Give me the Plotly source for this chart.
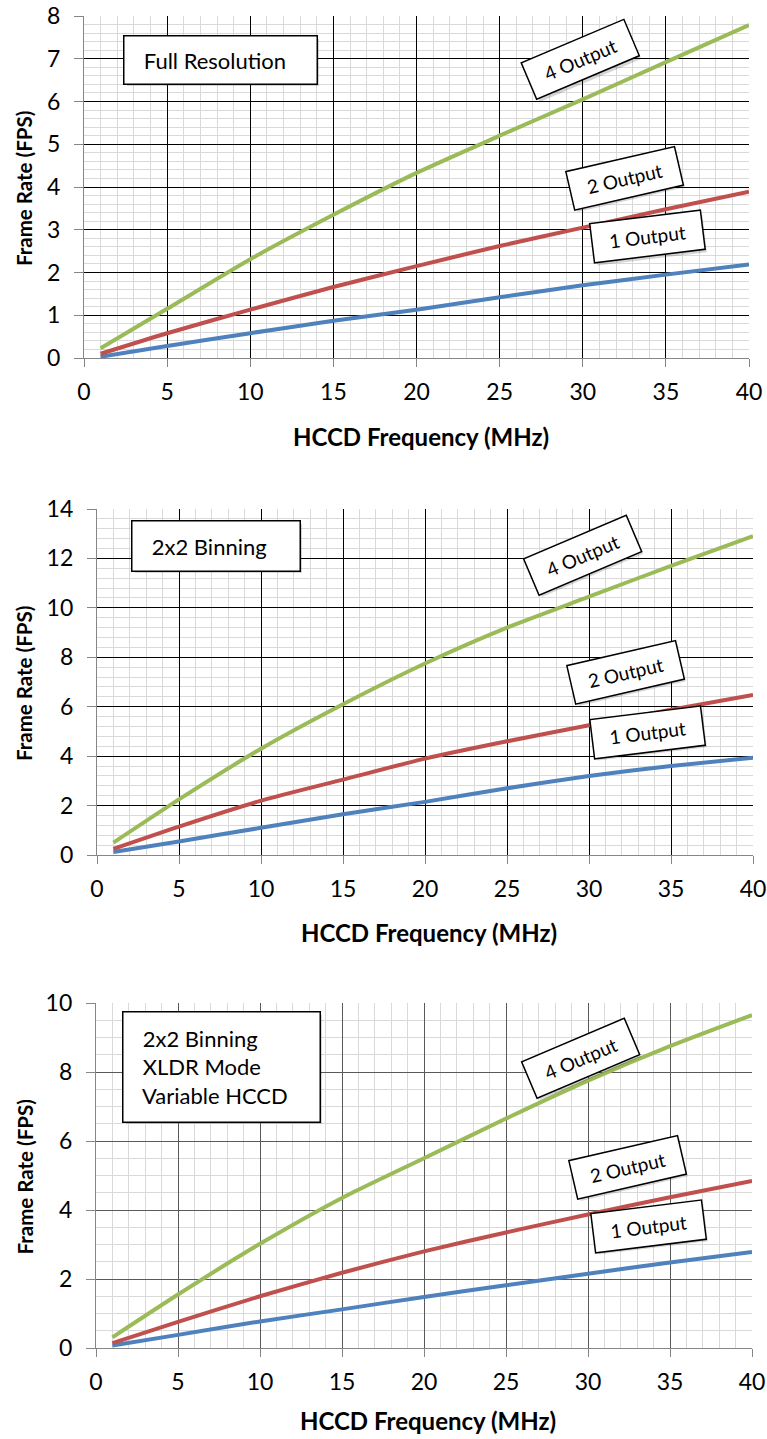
import plotly.graph_objects as go

W, H = 767, 1439

freq = [1, 5, 10, 15, 20, 25, 30, 35, 40]

# Chart 1: Full Resolution
full_1out = [0.03, 0.28, 0.58, 0.87, 1.13, 1.42, 1.70, 1.95, 2.19]
full_2out = [0.10, 0.58, 1.13, 1.66, 2.15, 2.62, 3.05, 3.48, 3.89]
full_4out = [0.23, 1.15, 2.31, 3.35, 4.33, 5.20, 6.05, 6.92, 7.79]

# Chart 2: 2x2 Binning
bin_1out = [0.12, 0.55, 1.10, 1.65, 2.15, 2.70, 3.20, 3.60, 3.94]
bin_2out = [0.25, 1.15, 2.20, 3.05, 3.90, 4.60, 5.25, 5.88, 6.48]
bin_4out = [0.50, 2.25, 4.30, 6.10, 7.75, 9.20, 10.45, 11.70, 12.90]

# Chart 3: 2x2 Binning XLDR Mode Variable HCCD
xldr_1out = [0.07, 0.38, 0.77, 1.12, 1.48, 1.82, 2.15, 2.48, 2.78]
xldr_2out = [0.14, 0.76, 1.50, 2.18, 2.80, 3.35, 3.87, 4.37, 4.84]
xldr_4out = [0.31, 1.55, 3.02, 4.35, 5.50, 6.65, 7.75, 8.75, 9.65]

series_names = ["1 Output", "2 Output", "4 Output"]
colors = ["#4F81BD", "#C0504D", "#9BBB59"]

x_ticks = [0, 5, 10, 15, 20, 25, 30, 35, 40]
panel_titles = [["Full Resolution"], ["2x2 Binning"], ["2x2 Binning", "XLDR Mode", "Variable HCCD"]]
x_title = "HCCD Frequency (MHz)"
y_title = "Frame Rate (FPS)"

FONT = "Lato"

def px(x):
    return x / W

def py(y):
    return 1 - y / H

# plot area pixel boxes (left, right, top, bottom)
boxes = [(84, 749, 16, 358), (97, 753, 509, 855), (96, 752, 1003, 1348)]
xtitle_gap = [78, 78, 72]
yranges = [(0, 8, 1, 0.2), (0, 14, 2, 0.4), (0, 10, 2, 0.5)]
major_cols = ["#000000", "#000000", "#595959"]
data = [
    (full_1out, full_2out, full_4out),
    (bin_1out, bin_2out, bin_4out),
    (xldr_1out, xldr_2out, xldr_4out),
]

fig = go.Figure()
layout = dict(
    width=W, height=H, margin=dict(l=0, r=0, t=0, b=0, autoexpand=False),
    paper_bgcolor="white", plot_bgcolor="white",
    showlegend=False, font=dict(family=FONT, color="black"),
)
annotations = []

for i, (box, gap, yr, mc, d) in enumerate(zip(boxes, xtitle_gap, yranges, major_cols, data)):
    n = "" if i == 0 else str(i + 1)
    xa, ya = "x" + n, "y" + n
    l, r, t, b = box
    layout["xaxis" + n] = dict(
        domain=[px(l), px(r)], anchor=ya, range=[0, 40], automargin=False,
        tickvals=x_ticks, showgrid=True, gridcolor=mc, gridwidth=1.3,
        minor=dict(dtick=1, showgrid=True, gridcolor="#D9D9D9", gridwidth=1.3),
        showline=True, linecolor="#868686", linewidth=1.3,
        ticks="outside", ticklen=8, tickcolor="#868686", tickwidth=1.3,
        tickfont=dict(family=FONT, size=23, color="black"),
        ticklabelstandoff=5, ticklabeloverflow="allow", zeroline=False, fixedrange=True,
    )
    layout["yaxis" + n] = dict(
        domain=[py(b), py(t)], anchor=xa, range=[yr[0], yr[1]], automargin=False,
        dtick=yr[2], tick0=0, showgrid=True, gridcolor=mc, gridwidth=1.3,
        minor=dict(dtick=yr[3], tick0=0, showgrid=True, gridcolor="#D9D9D9", gridwidth=1.3),
        showline=True, linecolor="#868686", linewidth=1.3,
        ticks="outside", ticklen=9, tickcolor="#868686", tickwidth=1.3,
        tickfont=dict(family=FONT, size=23, color="black"),
        ticklabelstandoff=9, ticklabeloverflow="allow", zeroline=False, fixedrange=True,
    )
    for vals, name, c in zip(d, series_names, colors):
        fig.add_trace(go.Scatter(
            x=freq, y=vals, name=name, mode="lines",
            line=dict(color=c, width=4, shape="spline", smoothing=0.6),
            xaxis=xa, yaxis=ya, hoverinfo="skip",
        ))
    # axis titles
    annotations.append(dict(
        text="<b>" + x_title + "</b>", x=px((l + r) / 2 + 4), y=py(b + gap),
        xref="paper", yref="paper", showarrow=False,
        font=dict(family=FONT, size=24, color="black"), xanchor="center", yanchor="middle"))
    annotations.append(dict(
        text="<b>" + y_title + "</b>", x=px(24), y=py((t + b) / 2 + 2),
        xref="paper", yref="paper", showarrow=False, textangle=-90,
        font=dict(family=FONT, size=20.5, color="black"), xanchor="center", yanchor="middle"))

# panel title boxes (left, right, top, bottom)
title_boxes = [(124, 316, 36, 83), (132, 299, 521, 570), (123, 319, 1012, 1121)]
for lines, (l, r, t, b) in zip(panel_titles, title_boxes):
    w, h = r - l, b - t
    pad = 8
    txt = "<br>".join("\u00a0\u00a0" + s for s in lines)
    common = dict(xref="paper", yref="paper", showarrow=False,
                  x=px((l + r) / 2), y=py((t + b) / 2), xanchor="center", yanchor="middle",
                  width=w - 2 * pad, height=h - 2 * pad, borderpad=pad, align="left")
    annotations.append(dict(text="", bgcolor="rgba(0,0,0,0.16)", borderwidth=0,
                            xshift=3, yshift=-3, **common))
    annotations.append(dict(text=txt, bgcolor="white", bordercolor="black", borderwidth=1.5,
                            font=dict(family=FONT, size=22, color="black"), **common))

# series label boxes: (center x px, center y px, angle)
label_pos = [
    [(647, 237, -7), (624, 178, -13), (580, 60, -23)],
    [(647, 732, -7), (625, 672, -13), (582, 555, -23)],
    [(648, 1226, -7), (627, 1167, -13), (580, 1058, -23)],
]
for panel in label_pos:
    for name, (cx, cy, ang) in zip(series_names, panel):
        common = dict(xref="paper", yref="paper", showarrow=False,
                      x=px(cx), y=py(cy), xanchor="center", yanchor="middle",
                      width=108, height=36, textangle=ang, align="center")
        annotations.append(dict(text=name, bgcolor="rgba(0,0,0,0.16)", borderwidth=0,
                                font=dict(family=FONT, size=19, color="rgba(0,0,0,0)"),
                                xshift=3, yshift=-3, **common))
        annotations.append(dict(text=name, bgcolor="white", bordercolor="black", borderwidth=1.5,
                                font=dict(family=FONT, size=19, color="black"), **common))

layout["annotations"] = annotations
fig.update_layout(**layout)
fig.write_html("out.html", config={"displayModeBar": False},
               post_script="document.body.style.margin='0px';document.body.style.padding='0px';")
